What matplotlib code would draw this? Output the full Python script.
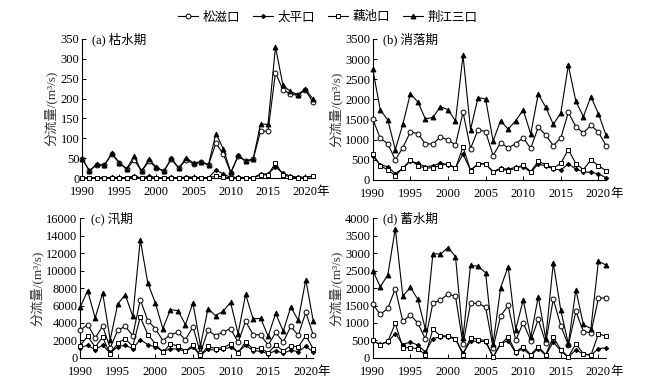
import matplotlib
matplotlib.use("Agg")
import matplotlib.pyplot as plt
import numpy as np

plt.rcParams['font.family'] = ['Liberation Serif', 'Noto Sans CJK SC']
plt.rcParams['font.size'] = 9
plt.rcParams['xtick.direction'] = 'in'
plt.rcParams['ytick.direction'] = 'in'
plt.rcParams['axes.unicode_minus'] = False

years = list(range(1990, 2022))
names = ["松滋口", "太平口", "藕池口", "荆江三口"]
markers = ['o', 'D', 's', '^']
msizes = [3.5, 2.2, 3.5, 3.5]
mfaces = ['white', 'black', 'white', 'black']

# (a) 枯水期
dry_sz = [48, 18, 34, 32, 60, 38, 22, 46, 17, 42, 26, 17, 47, 25, 46, 35,
          40, 33, 88, 60, 13, 55, 42, 47, 118, 118, 265, 222, 212, 208, 222, 192]
dry_tp = [1, 0, 1, 0, 2, 1, 1, 5, 0, 5, 1, 0, 2, 0, 3, 2,
          1, 1, 20, 10, 1, 2, 1, 1, 10, 10, 28, 12, 5, 2, 2, 5]
dry_oc = [0, 0, 0, 0, 0, 0, 0, 3, 0, 1, 0, 0, 1, 0, 1, 1,
          0, 0, 5, 3, 0, 0, 0, 0, 8, 8, 38, 8, 3, 0, 0, 5]
dry_all = [49, 18, 35, 32, 62, 39, 23, 55, 17, 47, 27, 17, 50, 25, 50, 38,
           41, 34, 112, 73, 14, 57, 43, 48, 136, 135, 330, 234, 218, 210, 224, 200]

# (b) 消落期
rec_sz = [1513, 1034, 901, 496, 802, 1191, 1150, 893, 893, 1067, 992, 868, 1679, 777, 1249, 1199,
          604, 926, 794, 901, 1042, 786, 1307, 1116, 852, 1042, 1679, 1323, 1166, 1356, 1191, 852]
rec_tp = [595, 372, 330, 157, 290, 463, 413, 330, 347, 420, 380, 306, 637, 248, 389, 397,
          207, 290, 265, 314, 330, 190, 397, 347, 273, 248, 397, 273, 198, 190, 149, 58]
rec_oc = [645, 355, 248, 108, 290, 496, 355, 290, 306, 355, 397, 290, 819, 232, 405, 405,
          190, 273, 232, 290, 372, 207, 463, 380, 290, 413, 753, 405, 256, 496, 355, 232]
rec_all = [2754, 1737, 1489, 753, 1381, 2142, 1935, 1513, 1555, 1819, 1745, 1464, 3093, 1249, 2043, 2010,
           968, 1472, 1257, 1472, 1737, 1141, 2134, 1803, 1381, 1662, 2845, 1952, 1571, 2068, 1646, 1116]

# (c) 汛期
fld_sz = [3162, 3810, 2286, 3620, 1143, 3162, 3620, 2553, 6668, 4267, 3353, 1981, 2667, 2934, 2096, 3543,
          572, 3162, 2553, 2972, 3353, 1791, 4191, 2667, 2629, 1448, 2934, 1791, 3620, 2591, 5220, 2591]
fld_tp = [1181, 1448, 953, 1448, 572, 1295, 1448, 1067, 2096, 1524, 1257, 762, 1029, 1029, 762, 1219,
          305, 991, 876, 1029, 1219, 686, 1448, 838, 762, 457, 838, 533, 876, 724, 1334, 648]
fld_oc = [1410, 2477, 1257, 2362, 419, 1715, 2210, 1334, 4686, 2667, 1638, 648, 1600, 1372, 762, 1486,
          305, 1334, 1067, 1181, 1600, 572, 1867, 991, 1143, 572, 1486, 800, 1410, 1257, 2553, 1029]
fld_all = [5791, 7696, 4572, 7430, 2096, 6172, 7239, 4763, 13526, 8573, 6287, 3353, 5525, 5410, 3810, 6287,
           1410, 5639, 4839, 5334, 6363, 2781, 7277, 4458, 4534, 2477, 5105, 3048, 5829, 4305, 8954, 4191]

# (d) 蓄水期
sto_sz = [1541, 1244, 1416, 1981, 1043, 1234, 995, 536, 1569, 1656, 1828, 1761, 392, 1560, 1560, 1455,
          297, 1196, 1502, 507, 1005, 498, 1100, 431, 1684, 919, 364, 1330, 756, 718, 1703, 1723]
sto_tp = [478, 392, 459, 699, 383, 459, 364, 172, 555, 603, 603, 536, 144, 478, 478, 469,
          29, 411, 498, 144, 268, 67, 268, 77, 459, 201, 19, 239, 105, 77, 268, 287]
sto_oc = [507, 383, 478, 986, 297, 287, 268, 86, 823, 632, 632, 555, 96, 584, 526, 498,
          29, 392, 603, 172, 325, 96, 325, 96, 593, 239, 29, 402, 124, 77, 689, 622]
sto_all = [2498, 2038, 2373, 3703, 1770, 2019, 1675, 823, 2986, 2967, 3158, 2900, 574, 2651, 2622, 2440,
           400, 2010, 2613, 813, 1656, 603, 1751, 555, 2727, 1359, 402, 1952, 957, 842, 2766, 2660]

panels = [
    ("(a) 枯水期", [dry_sz, dry_tp, dry_oc, dry_all], 350, 50),
    ("(b) 消落期", [rec_sz, rec_tp, rec_oc, rec_all], 3500, 500),
    ("(c) 汛期", [fld_sz, fld_tp, fld_oc, fld_all], 16000, 2000),
    ("(d) 蓄水期", [sto_sz, sto_tp, sto_oc, sto_all], 4000, 500),
]
# axes rectangles in figure fraction
rects = [
    [0.127, 0.534, 0.357, 0.364],
    [0.577, 0.529, 0.361, 0.369],
    [0.124, 0.063, 0.361, 0.366],
    [0.577, 0.063, 0.361, 0.366],
]

fig = plt.figure(figsize=(6.46, 3.82), dpi=100)
handles = []
for k, (title, series, ymax, ystep) in enumerate(panels):
    ax = fig.add_axes(rects[k])
    for i in range(4):
        h, = ax.plot(years, series[i], color='black', linewidth=0.8,
                     marker=markers[i], markersize=msizes[i],
                     markerfacecolor=mfaces[i], markeredgecolor='black',
                     markeredgewidth=0.7, label=names[i], clip_on=False, zorder=3)
        if k == 0:
            handles.append(h)
    ax.set_xlim(1990, 2021)
    ax.set_ylim(0, ymax)
    ax.set_xticks(range(1990, 2021, 5))
    ax.set_yticks(np.arange(0, ymax + 1, ystep))
    ax.tick_params(length=3, width=0.7, labelsize=9, pad=2)
    ax.tick_params(axis='x', pad=6)
    ax.spines['top'].set_visible(False)
    ax.spines['right'].set_visible(False)
    for s in ['left', 'bottom']:
        ax.spines[s].set_linewidth(0.8)
    ax.set_ylabel("分流量/(m³/s)", fontsize=9.5, color='#333333', labelpad=2)
    ax.text(0.045, 1.0, title, transform=ax.transAxes, fontsize=9,
            ha='left', va='center')
    ax.annotate("年", xy=(1, 0), xycoords='axes fraction', xytext=(3, -6),
                textcoords='offset points', ha='left', va='top', fontsize=9)

fig.legend(handles=handles, labels=names, loc='upper center', ncol=4,
           bbox_to_anchor=(0.507, 1.0), frameon=False, fontsize=9,
           handlelength=1.6, columnspacing=1.0, handletextpad=0.4)

plt.savefig("out.png", dpi=100)
